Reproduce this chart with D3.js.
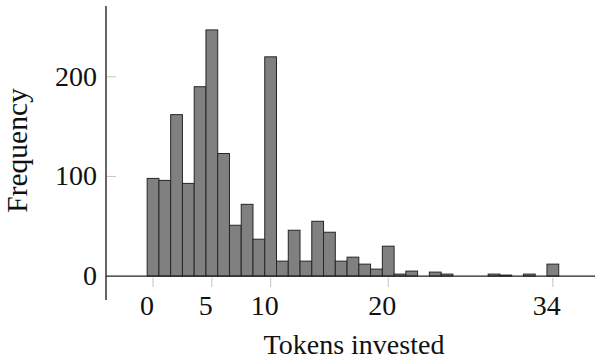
<!DOCTYPE html>
<html>
<head>
<meta charset="utf-8">
<script src="https://cdn.jsdelivr.net/npm/d3@7"></script>
<style>
  html, body { margin: 0; padding: 0; background: #fff; }
  svg { display: block; }
  text { font-family: "Liberation Serif", "Times New Roman", serif; fill: #111; }
</style>
</head>
<body>
<svg id="chart" width="595" height="359"></svg>
<script>
// Histogram of tokens invested: one bin per whole token count
const tokens = [0, 1, 2, 3, 4, 5, 6, 7, 8, 9, 10, 11, 12, 13, 14, 15, 16, 17,
                18, 19, 20, 21, 22, 23, 24, 25, 26, 27, 28, 29, 30, 31, 32, 33, 34];
const frequency = [98, 96, 162, 93, 190, 247, 123, 51, 72, 37, 220, 15, 46, 15, 55, 44, 15, 19,
                   12, 7, 30, 2, 5, 0, 4, 2, 0, 0, 0, 2, 1, 0, 2, 0, 12];
const xTickValues = [0, 5, 10, 20, 34];
const yTickValues = [0, 100, 200];
const xTitle = "Tokens invested";
const yTitle = "Frequency";

const svg = d3.select("#chart");

const x = d3.scaleLinear().domain([-4, 37.5]).range([106, 594]);
const y = d3.scaleLinear().domain([-24, 271]).range([300, 6]);

const bins = tokens.map((t, i) => ({ t, n: frequency[i] })).filter(d => d.n > 0);

// bars
svg.append("g")
  .selectAll("rect")
  .data(bins)
  .join("rect")
    .attr("x", d => x(d.t - 0.5))
    .attr("width", d => x(d.t + 0.5) - x(d.t - 0.5))
    .attr("y", d => y(d.n))
    .attr("height", d => y(0) - y(d.n))
    .attr("fill", "#808080")
    .attr("stroke", "#262626")
    .attr("stroke-width", 1);

// x axis: baseline line, light ticks hanging below
const xAxis = svg.append("g").attr("transform", `translate(0,${y(0)})`);
xAxis.append("line")
  .attr("x1", x.range()[0]).attr("x2", x.range()[1] + 1)
  .attr("stroke", "#222").attr("stroke-width", 1.3);
xAxis.selectAll("line.tick")
  .data(xTickValues)
  .join("line")
    .attr("class", "tick")
    .attr("x1", d => x(d)).attr("x2", d => x(d))
    .attr("y1", 1.5).attr("y2", 11)
    .attr("stroke", "#c4c4c4").attr("stroke-width", 1);
xAxis.selectAll("text")
  .data(xTickValues)
  .join("text")
    .attr("x", d => x(d) - 6)
    .attr("y", 39)
    .attr("text-anchor", "middle")
    .attr("font-size", 28)
    .text(d => d);

// y axis: vertical line, light ticks pointing inward
const yAxis = svg.append("g").attr("transform", `translate(${x.range()[0]},0)`);
yAxis.append("line")
  .attr("y1", y.range()[0]).attr("y2", y.range()[1])
  .attr("stroke", "#333").attr("stroke-width", 1.5);
yAxis.selectAll("line.tick")
  .data(yTickValues.filter(v => v !== 0))
  .join("line")
    .attr("class", "tick")
    .attr("x1", 1).attr("x2", 10)
    .attr("y1", d => y(d)).attr("y2", d => y(d))
    .attr("stroke", "#c4c4c4").attr("stroke-width", 1);
yAxis.selectAll("text")
  .data(yTickValues)
  .join("text")
    .attr("x", -9)
    .attr("y", d => y(d) + 9)
    .attr("text-anchor", "end")
    .attr("font-size", 28)
    .text(d => d);

// axis titles
svg.append("text")
  .attr("x", 354).attr("y", 354)
  .attr("text-anchor", "middle")
  .attr("font-size", 28)
  .text(xTitle);

svg.append("text")
  .attr("transform", "translate(27,150.5) rotate(-90)")
  .attr("text-anchor", "middle")
  .attr("font-size", 29.5)
  .text(yTitle);
</script>
</body>
</html>
